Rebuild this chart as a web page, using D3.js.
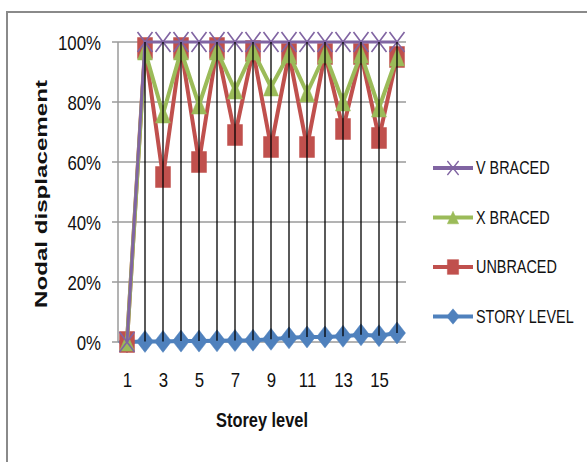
<!DOCTYPE html>
<html>
<head>
<meta charset="utf-8">
<script src="https://cdn.jsdelivr.net/npm/d3@7"></script>
<style>
body{margin:0;background:#fff;}
text{font-family:"Liberation Sans",Arial,sans-serif;fill:#111;}
</style>
</head>
<body>
<div id="chart"></div>
<script>
// storey levels on the x axis, percent values per series
var storeys = [1,2,3,4,5,6,7,8,9,10,11,12,13,14,15,16];
var xTickLabels = [1,3,5,7,9,11,13,15];
var yTickValues = [0,20,40,60,80,100];

var vBraced    = [0,100,100,100,100,100,100,100,100,100,100,100,100,100,100,100];
var xBraced    = [0,97,76,97,79,97,84,97,85,96,83,96,80,96,78,95];
var unbraced   = [0,98,55,98,60,98,69,97,65,96,65,96,71,96,68,95];
var storyLevel = [0,0.2,0.2,0.3,0.3,0.4,0.5,0.6,0.9,1.4,1.7,1.7,1.9,2.4,2.1,3.0];

var seriesNames = ["V BRACED","X BRACED","UNBRACED","STORY LEVEL"];

// squeeze text horizontally, the reference uses a narrow face
function narrow(sel, f){
    sel.each(function(){
        var len = this.getComputedTextLength();
        d3.select(this).attr("textLength", len * f).attr("lengthAdjust", "spacingAndGlyphs");
    });
}

function init(){
    var W = 587, H = 462;
    var margin = {left:118, top:42};
    var w = 288, h = 300;

    var svg = d3.select("#chart").append("svg")
                .attr("width", W)
                .attr("height", H);

    // outer chart border
    svg.append("rect")
        .attr("x", 7).attr("y", 12)
        .attr("width", 620).attr("height", 500)
        .attr("fill", "none")
        .attr("stroke", "#8a8a8a")
        .attr("stroke-width", 2);

    var g = svg.append("g").attr("transform", "translate(" + margin.left + "," + margin.top + ")");

    var xScale = d3.scalePoint()
                    .domain(storeys)
                    .range([0, w])
                    .padding(0.5);

    var yScale = d3.scaleLinear()
                    .domain([0, 100])
                    .range([h, 0]);

    // horizontal gridlines
    g.append("g").selectAll("line")
        .data(yTickValues)
        .enter()
        .append("line")
        .attr("x1", -6).attr("x2", w)
        .attr("y1", d => yScale(d)).attr("y2", d => yScale(d))
        .attr("stroke", "#9a9a9a")
        .attr("stroke-width", 1.5);

    // y axis line
    g.append("line")
        .attr("x1", 0).attr("x2", 0)
        .attr("y1", 0).attr("y2", h)
        .attr("stroke", "#9a9a9a")
        .attr("stroke-width", 1.5);

    var yAxis = g.append("g")
        .call(d3.axisLeft(yScale).tickValues(yTickValues).tickSize(0).tickPadding(17).tickFormat(d => d + "%"));
    yAxis.select(".domain").remove();
    yAxis.selectAll("text").style("font-size", "21px").attr("fill", "#111").attr("dy", "0.34em").call(narrow, 0.8);

    var xAxis = g.append("g")
        .attr("transform", "translate(0," + h + ")")
        .call(d3.axisBottom(xScale).tickValues(xTickLabels).tickSize(0).tickPadding(30));
    xAxis.select(".domain").remove();
    xAxis.selectAll("text").style("font-size", "21px").attr("fill", "#111").call(narrow, 0.8);

    // axis titles
    svg.append("text")
        .attr("transform", "translate(47,194) rotate(-90)")
        .attr("text-anchor", "middle")
        .attr("textLength", 228)
        .attr("lengthAdjust", "spacingAndGlyphs")
        .style("font-weight", "bold")
        .style("font-size", "17px")
        .text("Nodal displacement");

    svg.append("text")
        .attr("x", 262).attr("y", 427)
        .attr("text-anchor", "middle")
        .attr("textLength", 92)
        .attr("lengthAdjust", "spacingAndGlyphs")
        .style("font-weight", "bold")
        .style("font-size", "20px")
        .text("Storey level");

    // marker shapes, w x h box
    function markerPath(type, mw, mh){
        var a = mw/2, b = mh/2;
        if(type == "cross") return "M" + (-a) + "," + (-b) + "L" + a + "," + b + "M" + a + "," + (-b) + "L" + (-a) + "," + b;
        if(type == "triangle") return "M0," + (-b) + "L" + a + "," + b + "L" + (-a) + "," + b + "Z";
        if(type == "square") return "M" + (-a) + "," + (-b) + "H" + a + "V" + b + "H" + (-a) + "Z";
        return "M0," + (-b) + "L" + a + ",0L0," + b + "L" + (-a) + ",0Z";
    }

    var series = [
        {name: seriesNames[0], values: vBraced,    color: "#8064A2", marker: "cross",    mw: 15, mh: 20, lw: 3},
        {name: seriesNames[1], values: xBraced,    color: "#9BBB59", marker: "triangle", mw: 15, mh: 18, lw: 4},
        {name: seriesNames[2], values: unbraced,   color: "#C0504D", marker: "square",   mw: 15, mh: 21, lw: 4},
        {name: seriesNames[3], values: storyLevel, color: "#4F81BD", marker: "diamond",  mw: 17, mh: 22, lw: 4}
    ];

    var line = d3.line()
                .x((d,i) => xScale(storeys[i]))
                .y(d => yScale(d));

    // draw bottom series first so V BRACED sits on top
    series.slice().reverse().forEach(function(s){
        var sg = g.append("g");
        sg.append("path")
            .attr("d", line(s.values))
            .attr("fill", "none")
            .attr("stroke", s.color)
            .attr("stroke-width", s.lw)
            .attr("stroke-linejoin", "round");
        sg.selectAll("path.m")
            .data(s.values)
            .enter()
            .append("path")
            .attr("class", "m")
            .attr("transform", (d,i) => "translate(" + xScale(storeys[i]) + "," + yScale(d) + ")")
            .attr("d", markerPath(s.marker, s.mw, s.mh))
            .attr("fill", s.marker == "cross" ? "none" : s.color)
            .attr("stroke", s.color)
            .attr("stroke-width", s.marker == "cross" ? 1.6 : 0.5);
    });

    // high-low lines
    var hiLo = storeys.map(function(st, i){
        var vals = series.map(s => s.values[i]);
        return {storey: st, lo: d3.min(vals), hi: d3.max(vals)};
    }).filter(d => d.hi > d.lo);

    g.append("g").selectAll("line")
        .data(hiLo)
        .enter()
        .append("line")
        .attr("x1", d => xScale(d.storey)).attr("x2", d => xScale(d.storey))
        .attr("y1", d => yScale(d.hi)).attr("y2", d => yScale(d.lo))
        .attr("stroke", "#000")
        .attr("stroke-width", 1.3);

    // legend
    var legend = svg.append("g").attr("transform", "translate(433,168)");
    series.forEach(function(s, i){
        var ly = i * 49.5;
        legend.append("line")
            .attr("x1", 0).attr("x2", 40)
            .attr("y1", ly).attr("y2", ly)
            .attr("stroke", s.color)
            .attr("stroke-width", 4);
        legend.append("path")
            .attr("transform", "translate(20," + ly + ")")
            .attr("d", markerPath(s.marker, s.mw * 0.75, s.mh * 0.7))
            .attr("fill", s.marker == "cross" ? "none" : s.color)
            .attr("stroke", s.color)
            .attr("stroke-width", s.marker == "cross" ? 1.3 : 0.5);
        legend.append("text")
            .attr("x", 43)
            .attr("y", ly + 6)
            .style("font-size", "18px")
            .text(s.name)
            .call(narrow, 0.8);
    });
}

init();
</script>
</body>
</html>
